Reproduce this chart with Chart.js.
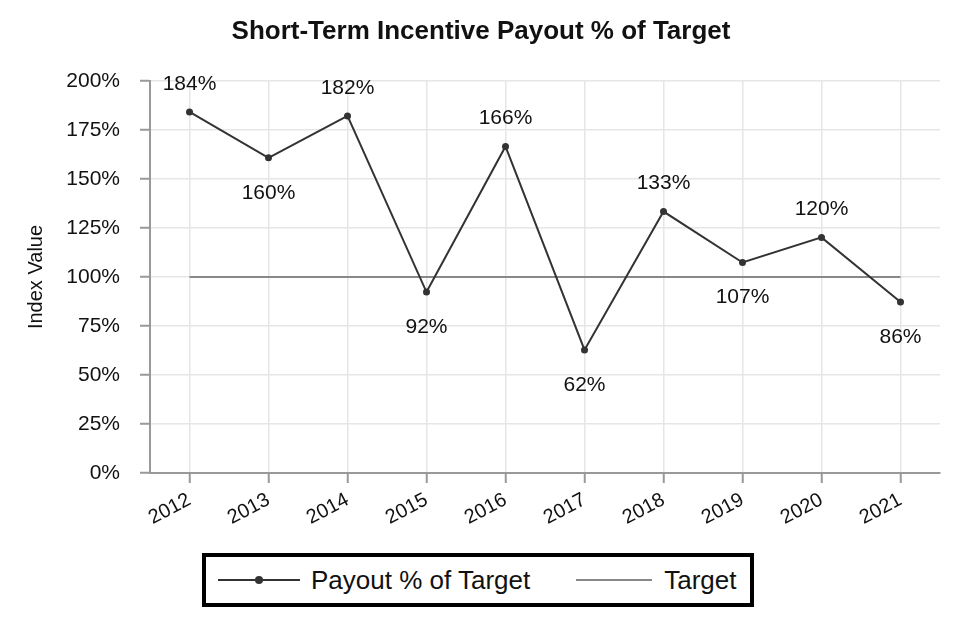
<!DOCTYPE html>
<html>
<head>
<meta charset="utf-8">
<script src="https://cdn.jsdelivr.net/npm/chart.js@4/dist/chart.umd.min.js"></script>
<style>
  body { margin: 0; background: #fff; font-family: "Liberation Sans", Arial, sans-serif; }
  #wrap { position: relative; width: 960px; height: 626px; }
  #legend {
    position: absolute; left: 202px; top: 553px; width: 552px; height: 54px;
    box-sizing: border-box; border: 4px solid #000; background: #fff;
    display: flex; align-items: center; font-size: 26px; color: #111;
  }
  #legend .item { display: flex; align-items: center; }
  #legend svg { display: block; }
</style>
</head>
<body>
<div id="wrap">
  <canvas id="myChart" width="960" height="626"></canvas>
  <div id="legend">
    <div class="item" style="margin-left:12px">
      <svg width="82" height="10"><line x1="0" y1="5" x2="82" y2="5" stroke="#333" stroke-width="2"/><circle cx="41" cy="5" r="4" fill="#333"/></svg>
      <span style="margin-left:11px">Payout % of Target</span>
    </div>
    <div class="item" style="margin-left:46px">
      <svg width="76" height="10"><line x1="0" y1="5" x2="76" y2="5" stroke="#888" stroke-width="2"/></svg>
      <span style="margin-left:12px">Target</span>
    </div>
  </div>
</div>
<script>
const years = ['2012', '2013', '2014', '2015', '2016', '2017', '2018', '2019', '2020', '2021'];
const payout = [184.2, 160.8, 182.2, 92.3, 166.6, 62.8, 133.4, 107.4, 120.2, 87.2];
const payoutLabels = ['184%', '160%', '182%', '92%', '166%', '62%', '133%', '107%', '120%', '86%'];
const target = [100, 100, 100, 100, 100, 100, 100, 100, 100, 100];
const chartTitle = 'Short-Term Incentive Payout % of Target';

// value labels above peaks, below troughs
const pointLabels = {
  id: 'pointLabels',
  afterDatasetsDraw(chart) {
    const ctx = chart.ctx;
    const meta = chart.getDatasetMeta(0);
    ctx.save();
    ctx.font = '21px "Liberation Sans", Arial, sans-serif';
    ctx.fillStyle = '#111';
    ctx.textAlign = 'center';
    ctx.textBaseline = 'middle';
    meta.data.forEach((pt, i) => {
      const prev = i > 0 ? payout[i - 1] : payout[i + 1];
      const next = i < payout.length - 1 ? payout[i + 1] : payout[i - 1];
      const above = payout[i] > (prev + next) / 2;
      ctx.fillText(payoutLabels[i], pt.x, above ? pt.y - 28 : pt.y + 35);
    });
    ctx.restore();
  }
};

// title centred on the whole canvas
const pageTitle = {
  id: 'pageTitle',
  afterDraw(chart) {
    const ctx = chart.ctx;
    ctx.save();
    ctx.font = 'bold 26px "Liberation Sans", Arial, sans-serif';
    ctx.fillStyle = '#111';
    ctx.textAlign = 'center';
    ctx.textBaseline = 'middle';
    ctx.fillText(chartTitle, chart.width / 2 + 1, 32);
    ctx.restore();
  }
};

const ctx = document.getElementById('myChart');
new Chart(ctx, {
  type: 'line',
  data: {
    labels: years,
    datasets: [{
      label: 'Payout % of Target',
      data: payout,
      borderColor: '#333',
      backgroundColor: '#333',
      borderWidth: 2,
      pointRadius: 3.5,
      pointBackgroundColor: '#333',
      pointBorderWidth: 0,
      tension: 0,
      order: 0
    }, {
      label: 'Target',
      data: target,
      borderColor: '#888',
      borderWidth: 2,
      pointRadius: 0,
      tension: 0,
      order: 1
    }]
  },
  options: {
    responsive: false,
    animation: false,
    layout: { padding: { top: 81, right: 20, bottom: 0, left: 0 } },
    plugins: {
      legend: { display: false },
      tooltip: { enabled: false },
      title: { display: false }
    },
    scales: {
      x: {
        offset: true,
        afterFit(s) { s.height = 153; },
        grid: {
          offset: false,
          color: '#e6e6e6',
          lineWidth: 1.5,
          drawTicks: true,
          tickLength: 10,
          tickColor: '#999',
          tickWidth: 2
        },
        border: { display: true, color: '#999', width: 2 },
        ticks: {
          color: '#111',
          font: { family: '"Liberation Sans", Arial, sans-serif', size: 20 },
          minRotation: 28,
          maxRotation: 28,
          padding: 5
        }
      },
      y: {
        min: 0,
        max: 200,
        afterFit(s) { s.width = 150; },
        grid: {
          color: '#e6e6e6',
          lineWidth: 1.5,
          drawTicks: true,
          tickLength: 10,
          tickColor: '#999',
          tickWidth: 2
        },
        border: { display: true, color: '#999', width: 2 },
        ticks: {
          stepSize: 25,
          color: '#111',
          padding: 20,
          font: { family: '"Liberation Sans", Arial, sans-serif', size: 21 },
          callback: v => v + '%'
        },
        title: {
          display: true,
          text: 'Index Value',
          color: '#111',
          font: { family: '"Liberation Sans", Arial, sans-serif', size: 20 },
          padding: { top: 24, bottom: 0 }
        }
      }
    }
  },
  plugins: [pointLabels, pageTitle]
});
</script>
</body>
</html>
